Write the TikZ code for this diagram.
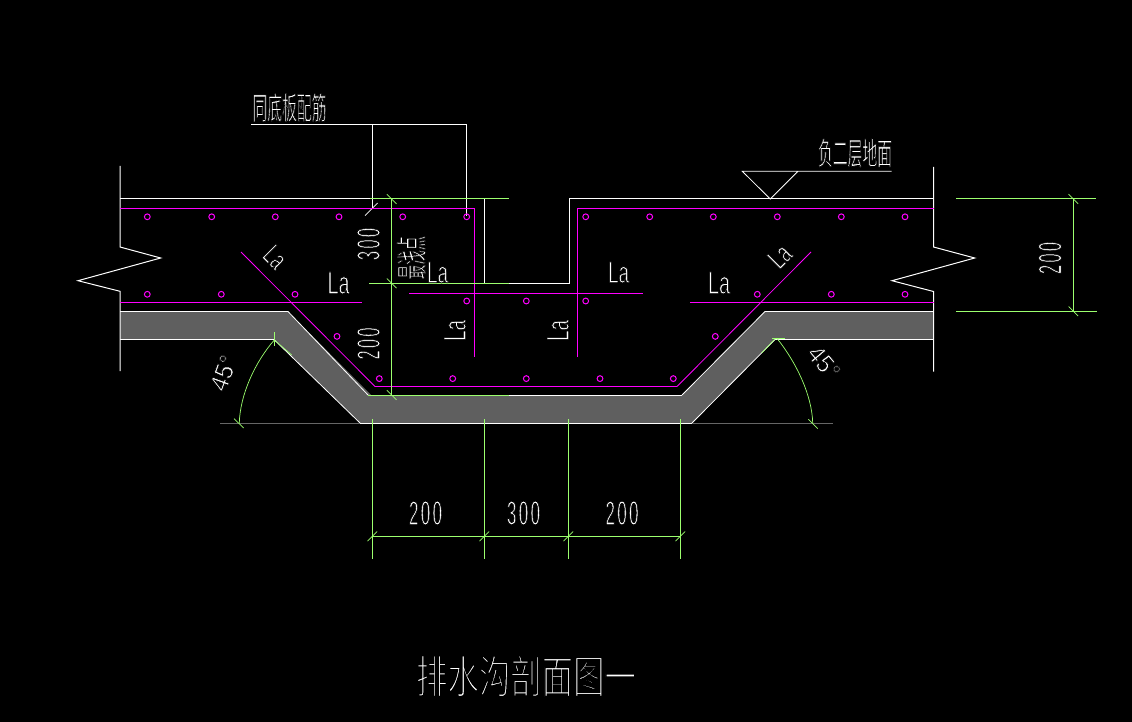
\documentclass[tikz,border=0pt]{standalone}
\usepackage{graphicx}
\usepackage{fontspec}
\setmainfont{Liberation Sans}
\newfontfamily\cjk{Noto Sans CJK SC}
\definecolor{cadgreen}{HTML}{9CFF6E}
\definecolor{cadmag}{HTML}{FF00FF}
\definecolor{cadgrey}{HTML}{5F5F5F}
% fit text into a box; thin its strokes by outlining the glyphs in black
\newcommand{\thinit}[1]{\special{pdf:code 2 Tr 0 0 0 RG #1 w}}
\newcommand{\unthin}{\special{pdf:code 0 Tr}}
\newcommand{\fitt}[3]{\resizebox*{#1pt}{#2pt}{\thinit{0.25}#3\unthin}}
\newcommand{\fitc}[3]{\resizebox*{#1pt}{#2pt}{\thinit{0.25}\cjk #3\unthin}}
\newcommand{\fitT}[3]{\resizebox*{#1pt}{#2pt}{\thinit{0.45}\cjk #3\unthin}}
\newcommand{\spc}[3]{#1\kern.14em #2\kern.14em #3}
\tikzset{
  wline/.style={draw=white,line width=1pt},
  gline/.style={draw=cadgreen,line width=1pt},
  mline/.style={draw=cadmag,line width=1.2pt},
  mthin/.style={draw=cadmag,line width=0.8pt},
  gtick/.style={draw=cadgreen,line width=0.7pt},
  dotbar/.style={draw=cadmag,line width=1pt,fill=none},
  txt/.style={text=white,inner sep=0pt,outer sep=0pt,anchor=center}
}
\newcommand{\bars}[2]{\foreach \bx in {#2} {\draw[dotbar] (\bx,#1) ellipse (2.9 and 2.9);}}
\begin{document}
\begin{tikzpicture}[x=1pt,y=-1pt]
\useasboundingbox (0,0) rectangle (1132,722);
\fill[black] (0,0) rectangle (1132,722);
% concrete
\fill[cadgrey] (120,311.5) -- (288,311.5) -- (371,395) -- (682,395) -- (765,311.5) -- (933.5,311.5)
  -- (933.5,339.5) -- (775,339.5) -- (692,423) -- (360,423) -- (274,339.5) -- (120,339.5) -- cycle;
\draw[wline,line width=0.8pt] (120,311.5) -- (288,311.5) -- (368,395);
\draw[wline] (120,339.5) -- (274,339.5);
\draw[wline,line width=0.8pt] (274,339.5) -- (360,423);
\draw[wline] (360,423) -- (692,423);
\draw[wline,line width=0.8pt] (692,423) -- (775,339.5);
\draw[wline] (775,339.5) -- (933.5,339.5);
\draw[wline,line width=0.8pt] (682,395) -- (765,311.5);
\draw[wline] (765,311.5) -- (933.5,311.5);
\draw[wline] (509,395) -- (682,395);
\draw[draw=white!40!black,line width=1pt] (220,423) -- (360,423) (692,423) -- (833,423);
% slab outline
\draw[wline] (120,166) -- (120,247) -- (160.7,258) -- (78,280.7) -- (120,291.3) -- (120,371);
\draw[wline] (933.5,167) -- (933.5,247) -- (974.7,258) -- (892,280.7) -- (933.5,291.5) -- (933.5,371.5);
\draw[wline] (120,199) -- (370,199);
\draw[wline] (509,283.3) -- (569,283.3) -- (569,199) -- (933.5,199);
\draw[wline] (484.5,199) -- (484.5,283.3);
% leaders
\draw[wline] (251,124.5) -- (466,124.5) -- (466,216);
\draw[wline] (372.3,124.5) -- (372.3,209);
\draw[wline,line width=0.7pt] (365,215.7) -- (377.7,203);
% level mark
\draw[wline,line width=0.8pt] (891.7,171.3) -- (742.3,171.3) -- (770.3,199) -- (798,171.3);
% rebar
\draw[mline] (120,208.5) -- (474.5,208.5) -- (474.5,357);
\draw[mline] (577.5,357) -- (577.5,208.5) -- (933.5,208.5);
\draw[mline] (120,302.5) -- (361.7,302.5);
\draw[mline] (690,302.5) -- (933.5,302.5);
\draw[mthin] (409,293.3) -- (643,293.3);
\draw[mthin] (241,252) -- (375,386.5);
\draw[mline] (375,386.5) -- (677,386.5);
\draw[mthin] (677,386.5) -- (811,252);
\bars{216.8}{147.3,211.7,275.3,339,402.7,466.7,585.7,649.7,713.3,777.3,841.3,905}
\bars{294.3}{147.3,221.3,295,757.3,831.3,905}
\bars{301}{466.7,526.3,585.7}
\bars{378.6}{379.3,452.7,526.3,600,673.3}
\bars{336.4}{337,715.3}
% green dimensions
\draw[gline] (370,199) -- (509,199);
\draw[gline] (369,283.3) -- (509,283.3);
\draw[gline] (368,395) -- (509,395);
\draw[gline] (391.7,199) -- (391.7,395);
\foreach \ty in {199,283.3,395} {\draw[gtick] (386.9,\ty-4.8) -- (396.5,\ty+4.8);}
\draw[gline] (372.3,419) -- (372.3,559) (484.3,419) -- (484.3,559) (568.3,419) -- (568.3,559) (680.3,419) -- (680.3,559);
\draw[gline] (372.3,536.3) -- (680.3,536.3);
\foreach \tx in {372.3,484.3,568.3,680.3} {\draw[gtick] (\tx-4.8,541.1) -- (\tx+4.8,531.5);}
\draw[gline] (956,199) -- (1095.7,199) (956,311.3) -- (1097,311.3) (1073.3,199) -- (1073.3,311.3);
\foreach \ty in {199,311.3} {\draw[gtick] (1068.5,\ty-4.8) -- (1078.1,\ty+4.8);}
% angle marks
\draw[gline] (274.3,332) -- (274.3,346);
\draw[gtick] (274.3,340) -- (291.7,355);
\draw[gtick] (274.3,340) .. controls (255,362) and (240,395) .. (239.3,423);
\draw[gtick] (234,418.7) -- (243.7,428);
\draw[gline] (772,338.3) -- (785,338.3);
\draw[gtick] (775,339) -- (761.7,353);
\draw[gtick] (776.7,338) .. controls (796,362) and (812,395) .. (812.7,423);
\draw[gtick] (808.3,419.3) -- (817.7,428.7);
% labels
\node[txt] (t1) at (289.5,107.5) {\fitc{74}{29}{同底板配筋}};
\node[txt] (t2) at (855,153) {\fitc{74}{29}{负二层地面}};
\node[txt] (t3) at (526,676) {\fitT{220}{42}{排水沟剖面图一}};
\node[txt,rotate=90] (t4) at (411.5,257.5) {\fitc{43}{29}{最浅点}};
\node[txt] (la1) at (338.5,283) {\fitt{22}{22}{La}};
\node[txt] (la2) at (719,283) {\fitt{22}{22}{La}};
\node[txt] (la3) at (437.5,272.5) {\fitt{21}{21}{La}};
\node[txt] (la4) at (618.5,272.5) {\fitt{21}{21}{La}};
\node[txt,rotate=90] (la5) at (455,330.5) {\fitt{21}{22}{La}};
\node[txt,rotate=90] (la6) at (558,330.5) {\fitt{21}{22}{La}};
\node[txt,rotate=-45] (la7) at (275,257) {\fitt{20}{20}{La}};
\node[txt,rotate=45] (la8) at (779.7,256.2) {\fitt{20}{20}{La}};
\node[txt,rotate=90] (d1) at (368.5,244) {\fitt{32}{23}{\spc 300}};
\node[txt,rotate=90] (d2) at (368.5,343.5) {\fitt{32}{23}{\spc 200}};
\node[txt,rotate=90] (d3) at (1050,258) {\fitt{32}{23}{\spc 200}};
\node[txt] (d4) at (425.5,513) {\fitt{33}{24}{\spc 200}};
\node[txt] (d5) at (523.5,513) {\fitt{33}{24}{\spc 300}};
\node[txt] (d6) at (622,513) {\fitt{33}{24}{\spc 200}};
\node[txt,rotate=70] (a1) at (223.5,373) {\fitt{36}{18}{45°}};
\node[txt,rotate=-50] (a2) at (824,362.5) {\fitt{36}{18}{45°}};
\end{tikzpicture}
\end{document}
